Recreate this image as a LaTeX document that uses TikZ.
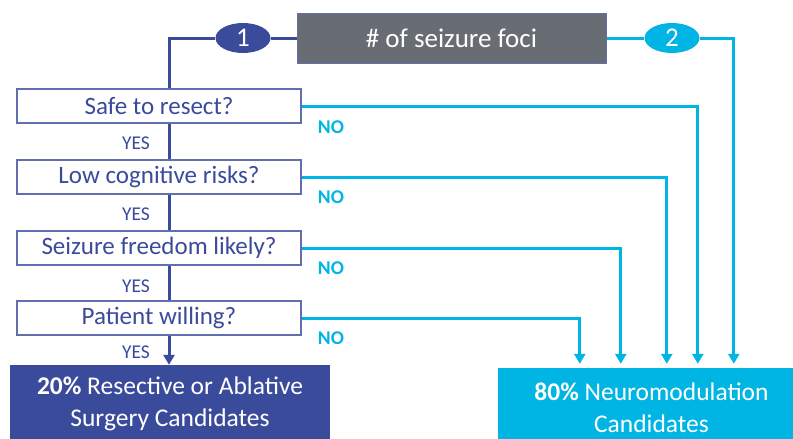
\documentclass[tikz,border=0pt]{standalone}
\usepackage{fontspec}
\setmainfont{Carlito}
\usetikzlibrary{arrows.meta, shapes.geometric}
\definecolor{darkblue}{HTML}{3B4B9B}
\definecolor{skyblue}{HTML}{00B4E4}
\definecolor{slategray}{HTML}{686C73}

\begin{document}
\begin{tikzpicture}[x=1pt, y=-1pt,
  question/.style={draw=darkblue!80, line width=1.2pt, fill=white, text=darkblue, minimum width=284pt, minimum height=34pt, inner sep=0pt, font=\fontsize{25}{30}\selectfont},
  yeslbl/.style={text=darkblue, font=\fontsize{19.5}{22}\selectfont},
  nolbl/.style={text=skyblue, font=\fontsize{19.5}{22}\selectfont\bfseries},
  badge/.style={ellipse, fill=#1, text=white, minimum width=55pt, minimum height=30pt, inner sep=0pt, font=\fontsize{27}{30}\selectfont},
  outcome/.style={fill=#1, text=white, align=center, inner sep=0pt, font=\fontsize{25.5}{32}\selectfont},
  yesline/.style={darkblue, line width=3pt},
  noline/.style={skyblue, line width=3pt},
  arrowtip/.style={-{Triangle[width=11pt,length=10pt]}}]
  \useasboundingbox (0, 0) rectangle (793, 439);
  \node[draw=darkblue!80, line width=1pt, fill=slategray, text=white, minimum width=309pt, minimum height=50pt, font=\fontsize{27}{30}\selectfont] (foci) at (451.5, 38) {\# of seizure foci};
  \node[badge=darkblue] (one) at (243, 38) {1};
  \node[badge=skyblue] (two) at (672, 38) {2};
  \node[question] (safe) at (159, 106) {Safe to resect?};
  \node[question] (low) at (159, 177) {Low cognitive risks?};
  \node[question] (likely) at (159, 248) {Seizure freedom likely?};
  \node[question] (will) at (159, 318) {Patient willing?};
  \node[outcome=darkblue, minimum width=320pt, minimum height=78pt] (surg) at (170, 404) {\textbf{20\%} Resective or Ablative\\Surgery Candidates};
  \node[outcome=skyblue, minimum width=307pt, minimum height=80pt] (nm) at (651.5, 408) {\textbf{80\%} Neuromodulation\\Candidates};
  \foreach \y [count=\i] in {143, 214, 286, 352}
    \node[yeslbl] (yes\i) at (136, \y) {YES};
  \foreach \y [count=\i] in {127, 197, 268, 338}
    \node[nolbl] (no\i) at (331, \y) {NO};
  % path 1
  \draw[yesline] (foci.west) -- (one.east);
  \draw[yesline] (one.west) -| ([xshift=10pt]safe.north);
  \foreach \a/\b in {safe/low, low/likely, likely/will}
    \draw[yesline] ([xshift=10pt]\a.south) -- ([xshift=10pt]\b.north);
  \draw[yesline, arrowtip] ([xshift=10pt]will.south) -- ([xshift=10pt]will.south |- surg.north);
  % path 2
  \draw[noline] (foci.east) -- (two.west);
  \draw[noline, arrowtip] (two.east) -| ([xshift=236pt, yshift=4pt]nm.north west);
  \foreach \q/\dx in {safe/200, low/169, likely/123, will/82}
    \draw[noline, arrowtip] (\q.east) -| ([xshift=\dx pt, yshift=4pt]nm.north west);
\end{tikzpicture}
\end{document}
